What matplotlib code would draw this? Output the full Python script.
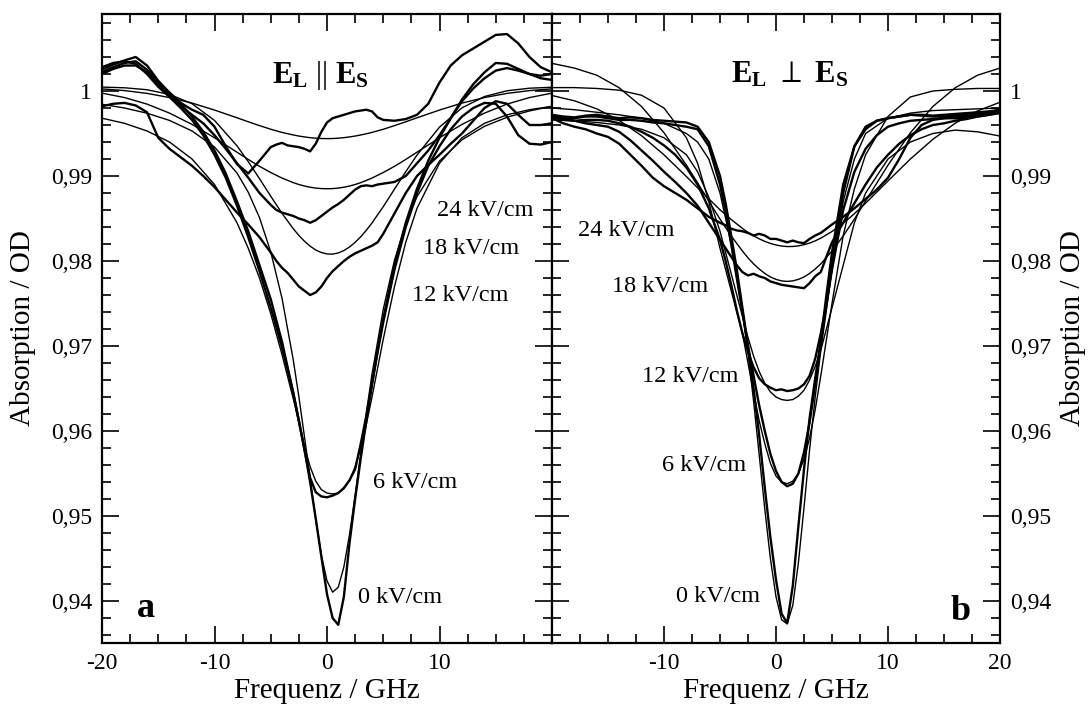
import matplotlib
matplotlib.use("Agg")
import matplotlib.pyplot as plt
from matplotlib.ticker import MultipleLocator

plt.rcParams['font.family'] = ['Liberation Serif', 'DejaVu Serif']
plt.rcParams['mathtext.fontset'] = 'custom'
plt.rcParams['mathtext.rm'] = 'Liberation Serif'
plt.rcParams['mathtext.bf'] = 'Liberation Serif:bold'

# ---------------- data ----------------
data_x = [-20, -19, -18, -17, -16, -15, -14, -13, -12, -11, -10, -9, -8, -7, -6,
          -5, -4.5, -4, -3.5, -3, -2.5, -2, -1.5, -1, -0.5, 0, 0.5, 1, 1.5, 2, 2.5,
          3, 3.5, 4, 4.5, 5, 6, 7, 8, 9, 10, 11, 12, 13, 14, 15, 16, 17, 18, 19, 20]
fit_x = [-20, -18, -16, -14, -12, -10, -8, -7, -6, -5, -4, -3, -2.5, -2, -1.5, -1, -0.5,
         0, 0.5, 1, 1.5, 2, 2.5, 3, 3.5, 4, 5, 6, 7, 8, 10, 12, 14, 16, 18, 20]

field_labels = ['0 kV/cm', '6 kV/cm', '12 kV/cm', '18 kV/cm', '24 kV/cm']

# panel a : E_L || E_S, measured
a_d24 = [1.0025, 1.0031, 1.0036, 1.0040, 1.0030, 1.0012, 0.9998, 0.9986, 0.9978, 0.9972, 0.9958, 0.9935, 0.9914, 0.9903, 0.9918,
         0.9934, 0.9937, 0.9939, 0.9936, 0.9935, 0.9934, 0.9932, 0.9929, 0.9938, 0.9952, 0.9963, 0.9968, 0.9970, 0.9972, 0.9974, 0.9976,
         0.9977, 0.9978, 0.9976, 0.9969, 0.9966, 0.9965, 0.9967, 0.9972, 0.9985, 1.0010, 1.0030, 1.0042, 1.0050, 1.0058, 1.0066, 1.0067, 1.0056, 1.0040, 1.0028, 1.0022]
a_d18 = [1.0020, 1.0026, 1.0030, 1.0030, 1.0022, 1.0008, 0.9995, 0.9982, 0.9972, 0.9962, 0.9948, 0.9932, 0.9915, 0.9898, 0.9880,
         0.9866, 0.9860, 0.9857, 0.9855, 0.9853, 0.9850, 0.9848, 0.9845, 0.9848, 0.9853, 0.9858, 0.9863, 0.9867, 0.9872, 0.9878, 0.9884,
         0.9888, 0.9889, 0.9888, 0.9890, 0.9891, 0.9893, 0.9900, 0.9915, 0.9930, 0.9948, 0.9968, 0.9990, 1.0008, 1.0022, 1.0033, 1.0032, 1.0026, 1.0020, 1.0015, 1.0013]
a_d12 = [0.9982, 0.9985, 0.9986, 0.9983, 0.9975, 0.9945, 0.9932, 0.9922, 0.9912, 0.9900, 0.9887, 0.9872, 0.9857, 0.9843, 0.9828,
         0.9810, 0.9800, 0.9792, 0.9786, 0.9778, 0.9770, 0.9765, 0.9760, 0.9763, 0.9770, 0.9780, 0.9788, 0.9794, 0.9800, 0.9805, 0.9809,
         0.9812, 0.9815, 0.9818, 0.9822, 0.9832, 0.9856, 0.9880, 0.9900, 0.9913, 0.9925, 0.9938, 0.9950, 0.9965, 0.9980, 0.9988, 0.9985, 0.9972, 0.9960, 0.9960, 0.9962]
a_d6 = [1.0028, 1.0033, 1.0035, 1.0032, 1.0020, 1.0005, 0.9993, 0.9980, 0.9966, 0.9948, 0.9925, 0.9898, 0.9865, 0.9828, 0.9788,
        0.9745, 0.9722, 0.9698, 0.9672, 0.9645, 0.9612, 0.9578, 0.9545, 0.9528, 0.9523, 0.9522, 0.9524, 0.9527, 0.9533, 0.9542, 0.9555,
        0.9585, 0.9618, 0.9655, 0.9693, 0.9728, 0.9790, 0.9840, 0.9880, 0.9912, 0.9935, 0.9955, 0.9970, 0.9980, 0.9986, 0.9985, 0.9970, 0.9948, 0.9938, 0.9937, 0.9940]
a_d0 = [1.0022, 1.0028, 1.0033, 1.0035, 1.0025, 1.0010, 0.9998, 0.9985, 0.9970, 0.9952, 0.9930, 0.9903, 0.9870, 0.9835, 0.9795,
        0.9755, 0.9730, 0.9705, 0.9675, 0.9645, 0.9612, 0.9578, 0.9540, 0.9497, 0.9452, 0.9408, 0.9380, 0.9372, 0.9405, 0.9468, 0.9520,
        0.9568, 0.9612, 0.9655, 0.9695, 0.9732, 0.9795, 0.9845, 0.9885, 0.9918, 0.9945, 0.9968, 0.9988, 1.0003, 1.0015, 1.0024, 1.0027, 1.0024, 1.0020, 1.0018, 1.0020]

# panel a : fits
a_f24 = [1.00025, 1.00005, 0.99972, 0.99923, 0.99858, 0.99776, 0.99685, 0.99638, 0.99593, 0.99550, 0.99513, 0.99483, 0.99470, 0.99460, 0.99451, 0.99445, 0.99441,
         0.99440, 0.99441, 0.99445, 0.99451, 0.99460, 0.99470, 0.99483, 0.99497, 0.99513, 0.99550, 0.99593, 0.99638, 0.99685, 0.99776, 0.99858, 0.99923, 0.99972, 1.00005, 1.00025]
a_f18 = [0.99975, 0.99923, 0.99846, 0.99740, 0.99607, 0.99450, 0.99280, 0.99195, 0.99114, 0.99041, 0.98976, 0.98922, 0.98900, 0.98882, 0.98868, 0.98858, 0.98852,
         0.98850, 0.98852, 0.98858, 0.98868, 0.98882, 0.98900, 0.98922, 0.98948, 0.98976, 0.99041, 0.99114, 0.99195, 0.99280, 0.99450, 0.99607, 0.99740, 0.99846, 0.99923, 0.99975]
a_f12 = [1.00046, 1.00038, 1.00015, 0.99960, 0.99851, 0.99654, 0.99355, 0.99169, 0.98969, 0.98762, 0.98561, 0.98380, 0.98301, 0.98232, 0.98175, 0.98129, 0.98100,
         0.98083, 0.98081, 0.98095, 0.98123, 0.98165, 0.98220, 0.98285, 0.98362, 0.98448, 0.98639, 0.98846, 0.99051, 0.99246, 0.99575, 0.99802, 0.99935, 1.00003, 1.00033, 1.00044]
a_f6 = [0.9968, 0.9962, 0.9953, 0.9940, 0.9920, 0.9890, 0.9845, 0.9815, 0.9780, 0.9738, 0.9690, 0.9638, 0.9610, 0.9582, 0.9558, 0.9541, 0.9531,
        0.9527, 0.9526, 0.9527, 0.9532, 0.9542, 0.9558, 0.9580, 0.9608, 0.9640, 0.9708, 0.9770, 0.9822, 0.9862, 0.9915, 0.9945, 0.9962, 0.9972, 0.9978, 0.9982]
a_f0 = [0.99844, 0.99800, 0.99739, 0.99654, 0.99530, 0.99341, 0.99035, 0.98809, 0.98510, 0.98107, 0.97562, 0.96837, 0.96403, 0.95931, 0.95438, 0.94957, 0.94539,
        0.94237, 0.94104, 0.94162, 0.94401, 0.94780, 0.95241, 0.95735, 0.96218, 0.96669, 0.97432, 0.98010, 0.98439, 0.98757, 0.99176, 0.99426, 0.99585, 0.99691, 0.99766, 0.99819]

# panel b : E_L perp E_S, measured
b_d24 = [0.9968, 0.9962, 0.9958, 0.9955, 0.9950, 0.9946, 0.9938, 0.9925, 0.9912, 0.9898, 0.9888, 0.9880, 0.9872, 0.9862, 0.9852,
         0.9845, 0.9842, 0.9838, 0.9836, 0.9835, 0.9833, 0.9830, 0.9832, 0.9830, 0.9826, 0.9826, 0.9824, 0.9822, 0.9824, 0.9822, 0.9821,
         0.9826, 0.9830, 0.9833, 0.9838, 0.9843, 0.9852, 0.9862, 0.9873, 0.9884, 0.9898, 0.9920, 0.9945, 0.9960, 0.9966, 0.9968, 0.9968, 0.9968, 0.9970, 0.9972, 0.9974]
b_d18 = [0.9972, 0.9968, 0.9965, 0.9962, 0.9960, 0.9958, 0.9952, 0.9942, 0.9930, 0.9918, 0.9905, 0.9893, 0.9880, 0.9865, 0.9845,
         0.9825, 0.9815, 0.9805, 0.9795, 0.9787, 0.9783, 0.9785, 0.9782, 0.9780, 0.9776, 0.9774, 0.9772, 0.9771, 0.9770, 0.9769, 0.9768,
         0.9774, 0.9782, 0.9787, 0.9805, 0.9822, 0.9845, 0.9868, 0.9890, 0.9910, 0.9925, 0.9938, 0.9948, 0.9955, 0.9960, 0.9962, 0.9965, 0.9967, 0.9970, 0.9972, 0.9975]
b_d12 = [0.9968, 0.9966, 0.9965, 0.9966, 0.9966, 0.9965, 0.9962, 0.9958, 0.9952, 0.9945, 0.9936, 0.9925, 0.9910, 0.9890, 0.9862,
         0.9825, 0.9800, 0.9772, 0.9742, 0.9715, 0.9693, 0.9675, 0.9662, 0.9655, 0.9651, 0.9648, 0.9649, 0.9647, 0.9648, 0.9650, 0.9655,
         0.9665, 0.9685, 0.9715, 0.9750, 0.9790, 0.9860, 0.9905, 0.9932, 0.9948, 0.9958, 0.9962, 0.9965, 0.9966, 0.9967, 0.9968, 0.9969, 0.9970, 0.9972, 0.9974, 0.9976]
b_d6 = [0.9970, 0.9968, 0.9968, 0.9970, 0.9970, 0.9968, 0.9966, 0.9966, 0.9965, 0.9963, 0.9962, 0.9960, 0.9958, 0.9955, 0.9935,
        0.9890, 0.9858, 0.9820, 0.9780, 0.9740, 0.9700, 0.9665, 0.9630, 0.9600, 0.9573, 0.9553, 0.9540, 0.9535, 0.9538, 0.9550, 0.9575,
        0.9610, 0.9655, 0.9705, 0.9760, 0.9810, 0.9890, 0.9935, 0.9955, 0.9965, 0.9968, 0.9970, 0.9972, 0.9971, 0.9970, 0.9970, 0.9971, 0.9972, 0.9973, 0.9975, 0.9976]
b_d0 = [0.9972, 0.9970, 0.9969, 0.9971, 0.9972, 0.9970, 0.9968, 0.9969, 0.9968, 0.9966, 0.9965, 0.9964, 0.9963, 0.9958, 0.9940,
        0.9900, 0.9868, 0.9830, 0.9790, 0.9745, 0.9700, 0.9650, 0.9595, 0.9533, 0.9475, 0.9425, 0.9385, 0.9374, 0.9418, 0.9488, 0.9555,
        0.9615, 0.9662, 0.9705, 0.9748, 0.9795, 0.9880, 0.9935, 0.9958, 0.9965, 0.9968, 0.9970, 0.9972, 0.9972, 0.9971, 0.9972, 0.9973, 0.9974, 0.9975, 0.9976, 0.9978]

# panel b : fits
b_f24 = [0.99947, 0.99885, 0.99790, 0.99654, 0.99474, 0.99249, 0.98994, 0.98862, 0.98732, 0.98603, 0.98488, 0.98384, 0.98337, 0.98296, 0.98261, 0.98231, 0.98207,
         0.98189, 0.98176, 0.98170, 0.98171, 0.98178, 0.98192, 0.98211, 0.98237, 0.98269, 0.98347, 0.98443, 0.98557, 0.98680, 0.98942, 0.99200, 0.99431, 0.99621, 0.99766, 0.99868]
b_f18 = [1.00325, 1.00270, 1.00186, 1.00038, 0.99817, 0.99509, 0.99128, 0.98919, 0.98705, 0.98493, 0.98295, 0.98118, 0.98037, 0.97966, 0.97906, 0.97854, 0.97812,
         0.97784, 0.97766, 0.97760, 0.97766, 0.97784, 0.97812, 0.97854, 0.97906, 0.97966, 0.98118, 0.98295, 0.98493, 0.98705, 0.99128, 0.99509, 0.99817, 1.00038, 1.00186, 1.00270]
b_f12 = [0.9966, 0.9965, 0.9963, 0.9960, 0.9955, 0.9945, 0.9925, 0.9905, 0.9875, 0.9835, 0.9785, 0.9735, 0.9710, 0.9688, 0.9670, 0.9656, 0.9646,
         0.9640, 0.9637, 0.9636, 0.9637, 0.9641, 0.9648, 0.9660, 0.9676, 0.9695, 0.9745, 0.9795, 0.9845, 0.9880, 0.9920, 0.9940, 0.9950, 0.9954, 0.9952, 0.9947]
b_f6 = [1.0004, 1.0004, 1.0003, 1.0001, 0.9995, 0.9980, 0.9945, 0.9915, 0.9870, 0.9815, 0.9765, 0.9715, 0.9680, 0.9645, 0.9612, 0.9585, 0.9562,
        0.9547, 0.9540, 0.9538, 0.9541, 0.9550, 0.9567, 0.9592, 0.9625, 0.9665, 0.9750, 0.9830, 0.9885, 0.9925, 0.9970, 0.9993, 1.0000, 1.0002, 1.0003, 1.0003]
b_f0 = [0.9980, 0.9978, 0.9975, 0.9972, 0.9968, 0.9962, 0.9950, 0.9940, 0.9920, 0.9880, 0.9820, 0.9740, 0.9692, 0.9635, 0.9572, 0.9508, 0.9450,
        0.9405, 0.9378, 0.9373, 0.9395, 0.9445, 0.9510, 0.9578, 0.9640, 0.9695, 0.9790, 0.9870, 0.9920, 0.9950, 0.9968, 0.9974, 0.9977, 0.9978, 0.9979, 0.9980]

y_major = [0.94, 0.95, 0.96, 0.97, 0.98, 0.99, 1.00]
y_labels = ['0,94', '0,95', '0,96', '0,97', '0,98', '0,99', '1']
x_major = [-20, -10, 0, 10, 20]
a_xlabels = ['-20', '-10', '0', '10', '']
b_xlabels = ['', '-10', '0', '10', '20']

a_lab_pos = [(2.8, 0.9404), (4.1, 0.9540), (7.6, 0.9760), (8.5, 0.9815), (9.8, 0.9860)]
b_lab_pos = [(-8.9, 0.9405), (-10.2, 0.9560), (-12.0, 0.9664), (-14.6, 0.9770), (-17.7, 0.9836)]

# ---------------- figure ----------------
W, H = 1088, 704
fig = plt.figure(figsize=(W / 100, H / 100), dpi=100)
ax1 = fig.add_axes([102 / W, 61 / H, 450 / W, 629 / H])
ax2 = fig.add_axes([552 / W, 61 / H, 448 / W, 629 / H])

a_data = [a_d0, a_d6, a_d12, a_d18, a_d24]
a_fits = [a_f0, a_f6, a_f12, a_f18, a_f24]
b_data = [b_d0, b_d6, b_d12, b_d18, b_d24]
b_fits = [b_f0, b_f6, b_f12, b_f18, b_f24]

for ax, datas, fits in ((ax1, a_data, a_fits), (ax2, b_data, b_fits)):
    for d in datas:
        ax.plot(data_x, d, color='black', lw=1.7)
    for f in fits:
        ax.plot(fit_x, f, color='black', lw=1.0)
    ax.set_xlim(-20, 20)
    ax.set_ylim(0.93506, 1.00906)
    ax.xaxis.set_minor_locator(MultipleLocator(2.5))
    ax.yaxis.set_minor_locator(MultipleLocator(0.002))
    ax.set_yticks(y_major)
    ax.tick_params(which='both', direction='in', top=True, bottom=True, left=True, right=True,
                   width=1.2, labelsize=17, colors='black')
    ax.tick_params(which='major', length=12.5, pad=7)
    ax.tick_params(which='minor', length=6.5)
    for s in ax.spines.values():
        s.set_linewidth(1.6)

ax1.set_xticks(x_major)
ax1.set_xticklabels(a_xlabels)
ax1.set_yticklabels(y_labels)
ax2.set_xticks(x_major)
ax2.set_xticklabels(b_xlabels)
ax2.set_yticklabels(y_labels)
ax2.yaxis.tick_right()
ax2.tick_params(which='both', left=True, right=True, labelleft=False, labelright=True)

for lab, (x, y) in zip(field_labels, a_lab_pos):
    ax1.text(x, y, lab, fontsize=17.5, va='center', ha='left')
for lab, (x, y) in zip(field_labels, b_lab_pos):
    ax2.text(x, y, lab, fontsize=17.5, va='center', ha='left')

ax1.text(-0.6, 1.001, r'$\mathbf{E_L}$ || $\mathbf{E_S}$', fontsize=22, ha='center', va='baseline')
ax2.text(1.2, 1.001, r'$\mathbf{E_L}$ $\perp$ $\mathbf{E_S}$', fontsize=22, ha='center', va='baseline')

ax1.text(-16.9, 0.9381, 'a', fontsize=26, fontweight='bold', ha='left', va='baseline')
ax2.text(15.6, 0.9378, 'b', fontsize=26, fontweight='bold', ha='left', va='baseline')

fig.text(327 / W, 6 / H, 'Frequenz / GHz', fontsize=21, ha='center', va='baseline')
fig.text(776 / W, 6 / H, 'Frequenz / GHz', fontsize=21, ha='center', va='baseline')
fig.text(23 / W, (H - 328) / H, 'Absorption / OD', fontsize=21, rotation=90, ha='center', va='center')
fig.text(1073 / W, (H - 328) / H, 'Absorption / OD', fontsize=21, rotation=90, ha='center', va='center')

fig.savefig('out.png', dpi=100)
